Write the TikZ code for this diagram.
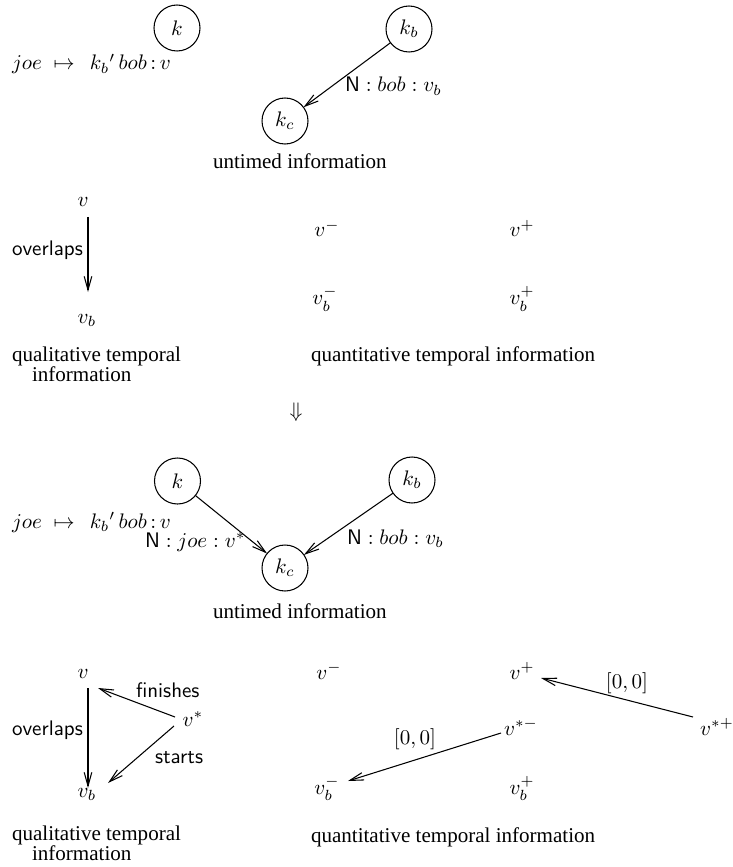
\documentclass[tikz,border=0pt]{standalone}
\usepackage[no-math]{fontspec}
\setmainfont{Liberation Serif}
\usetikzlibrary{arrows.meta,calc}
\begin{document}
\begin{tikzpicture}[x=0.475pt, y=-0.475pt, line width=0.5pt,
  every node/.style={inner sep=0pt, outer sep=0pt},
  state/.style={circle, draw, minimum size=21.85pt, inner sep=0pt},
  lab/.style={anchor=base west},
  mnode/.style={anchor=base},
  arr/.style={-{Straight Barb[length=6.5pt,width=3.6pt]}, line width=0.5pt},
  twoline/.style={anchor=base west, align=left}]
\useasboundingbox (0,0) rectangle (732,867);

% ---------- section 1: untimed information ----------
\node[state] (k1) at (177,28) {$k$};
\node[state] (kb1) at (409,29) {$k_b$};
\node[state] (kc1) at (285,121) {$k_c$};
\node[lab] (map1) at (12,70) {$joe\;\mapsto\;\, k_b{}'\,bob\,{:}\,v$};
\draw[arr] (kb1) -- (kc1);
\node[lab] (n1) at (345,92) {$\mathsf{N} : bob : v_b$};
\node[lab] (un1) at (213,169) {untimed information};

% ---------- section 2: temporal information ----------
\node[mnode] (v2) at (83,207) {$v$};
\node[mnode] (vb2) at (87,323) {$v_b$};
\draw[arr] ($(v2.base)+(5,10)$) -- ($(vb2.base)+(1,-31)$);
\node[lab] (ov2) at (12,255) {\textsf{overlaps}};
\node[mnode] (vm2) at (327,237) {$v^-$};
\node[mnode] (vp2) at (522,237) {$v^+$};
\node[mnode] (vbm2) at (325,305) {$v_b^-$};
\node[mnode] (vbp2) at (522,305) {$v_b^+$};
\node[twoline] (ql2) at (12,381) {qualitative temporal\\[-2.6pt]\hspace*{9.5pt}information};
\node[lab] (qt2) at (311,361) {quantitative temporal information};

% ---------- implication ----------
\node (dn) at (296,412) {$\Downarrow$};

% ---------- section 3: untimed information ----------
\node[state] (k3) at (177.5,481) {$k$};
\node[state] (kb3) at (412,480) {$k_b$};
\node[state] (kc3) at (285,568) {$k_c$};
\node[lab] (map3) at (12,528) {$joe\;\mapsto\;\, k_b{}'\,bob\,{:}\,v$};
\draw[arr] (k3) -- (kc3);
\draw[arr] (kb3) -- (kc3);
\node[lab] (n3a) at (145,547) {$\mathsf{N} : joe : v^*$};
\node[lab] (n3b) at (347,544) {$\mathsf{N} : bob : v_b$};
\node[lab] (un3) at (213,618) {untimed information};

% ---------- section 4: temporal information ----------
\node[mnode] (v4) at (83,678) {$v$};
\node[mnode] (vs4) at (193,726) {$v^*$};
\node[mnode] (vb4) at (87,797) {$v_b$};
\draw[arr] ($(v4.base)+(5,10)$) -- ($(vb4.base)+(1,-9)$);
\draw[arr] ($(vs4.base)+(-18,-9)$) -- ($(v4.base)+(15,10)$);
\draw[arr] ($(vs4.base)+(-19,0)$) -- ($(vb4.base)+(21,-14)$);
\node[lab] (ov4) at (12,735) {\textsf{overlaps}};
\node[lab] (fi4) at (136,697) {\textsf{finishes}};
\node[lab] (st4) at (155,763) {\textsf{starts}};

\node[mnode] (vm4) at (329,679) {$v^-$};
\node[mnode] (vp4) at (522,679) {$v^+$};
\node[mnode] (vsm4) at (521,735) {$v^{*-}$};
\node[mnode] (vsp4) at (717,735) {$v^{*+}$};
\node[mnode] (vbm4) at (327,794) {$v_b^-$};
\node[mnode] (vbp4) at (522,794) {$v_b^+$};
\draw[arr] ($(vsp4.base)+(-24,-18)$) -- ($(vp4.base)+(19,-1)$);
\draw[arr] ($(vsm4.base)+(-20,-2)$) -- ($(vbm4.base)+(21,-13)$);
\node (z1) at (627,683) {$[0,0]$};
\node (z2) at (415,739) {$[0,0]$};

\node[twoline] (ql4) at (12,860) {qualitative temporal\\[-2.6pt]\hspace*{9.5pt}information};
\node[lab] (qt4) at (311,842) {quantitative temporal information};
\end{tikzpicture}
\end{document}
